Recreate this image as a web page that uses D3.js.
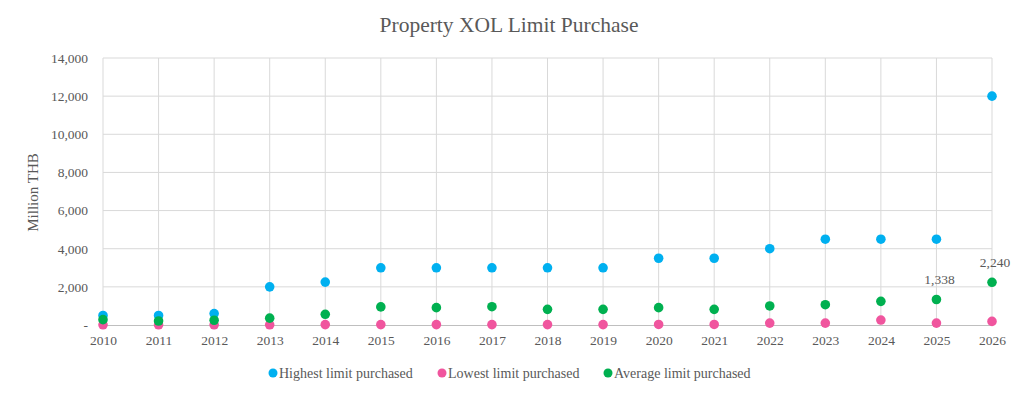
<!DOCTYPE html>
<html>
<head>
<meta charset="utf-8">
<script src="https://cdn.jsdelivr.net/npm/d3@7"></script>
<style>
  body { margin: 0; background: #fff; }
  text { font-family: "Liberation Serif", "DejaVu Serif", serif; fill: #595959; }
</style>
</head>
<body>
<div id="chart"></div>
<script>
const years = [2010, 2011, 2012, 2013, 2014, 2015, 2016, 2017, 2018, 2019, 2020, 2021, 2022, 2023, 2024, 2025, 2026];
const highest = [500, 500, 600, 2000, 2250, 3000, 3000, 3000, 3000, 3000, 3500, 3500, 4000, 4500, 4500, 4500, 12000];
const lowest = [10, 10, 10, 10, 20, 20, 20, 20, 20, 20, 30, 30, 100, 100, 260, 100, 190];
const average = [280, 210, 250, 360, 560, 950, 910, 960, 820, 820, 910, 820, 1000, 1065, 1240, 1338, 2240];
const yTicks = [0, 2000, 4000, 6000, 8000, 10000, 12000, 14000];
const labelled = [2025, 2026];

const series = [
  { name: "Highest limit purchased", values: highest, color: "#00B0F0" },
  { name: "Lowest limit purchased", values: lowest, color: "#F0559E" },
  { name: "Average limit purchased", values: average, color: "#00B050" },
];

const width = 1024, height = 396;
const margin = { left: 103, right: 32, top: 58, bottom: 71 };

const svg = d3.select("#chart").append("svg")
  .attr("width", width).attr("height", height);

const x = d3.scaleLinear().domain([2010, 2026]).range([margin.left, width - margin.right]);
const y = d3.scaleLinear().domain([0, 14000]).range([height - margin.bottom, margin.top]);

// gridlines
svg.append("g").selectAll("line.h")
  .data(yTicks.filter(d => d > 0))
  .join("line")
  .attr("x1", margin.left).attr("x2", width - margin.right)
  .attr("y1", d => y(d)).attr("y2", d => y(d))
  .attr("stroke", "#D9D9D9").attr("stroke-width", 1);

svg.append("g").selectAll("line.v")
  .data(years)
  .join("line")
  .attr("x1", d => x(d)).attr("x2", d => x(d))
  .attr("y1", y(14000)).attr("y2", y(0))
  .attr("stroke", "#D9D9D9").attr("stroke-width", 1);

// x axis
const axisX = d3.axisBottom(x).tickValues(years).tickFormat(d3.format("d")).tickSize(0).tickPadding(10);
const gx = svg.append("g").attr("transform", `translate(0,${y(0)})`).call(axisX);
gx.select(".domain").attr("stroke", "#BFBFBF");
gx.selectAll("text").style("font-size", "13.5px").attr("fill", "#595959");

// y axis
const axisY = d3.axisLeft(y).tickValues(yTicks)
  .tickFormat(d => d === 0 ? "-" : d3.format(",")(d)).tickSize(0).tickPadding(15);
const gy = svg.append("g").attr("transform", `translate(${margin.left},0)`).call(axisY);
gy.select(".domain").remove();
gy.selectAll("text").style("font-size", "13.5px").attr("fill", "#595959");

// points
series.forEach(s => {
  svg.append("g").selectAll("circle")
    .data(years.map((yr, i) => ({ x: yr, y: s.values[i] })))
    .join("circle")
    .attr("cx", d => x(d.x))
    .attr("cy", d => y(d.y))
    .attr("r", 4.8)
    .attr("fill", s.color);
});

// data labels
svg.append("g").selectAll("text")
  .data(labelled.map(yr => ({ x: yr, y: average[years.indexOf(yr)] })))
  .join("text")
  .attr("x", d => x(d.x) + 3)
  .attr("y", d => y(d.y) - 15)
  .attr("text-anchor", "middle")
  .style("font-size", "13.5px")
  .text(d => d3.format(",")(d.y));

// title
svg.append("text")
  .attr("x", 509).attr("y", 32)
  .attr("text-anchor", "middle")
  .style("font-size", "21.5px")
  .text("Property XOL Limit Purchase");

// y label
svg.append("text")
  .attr("transform", `translate(38,${(y(0) + y(14000)) / 2 + 1}) rotate(-90)`)
  .attr("text-anchor", "middle")
  .style("font-size", "15px")
  .text("Million THB");

// legend
const legendX = [273, 442, 608];
const legend = svg.append("g").selectAll("g")
  .data(series)
  .join("g")
  .attr("transform", (d, i) => `translate(${legendX[i]},373)`);
legend.append("circle").attr("r", 4.5).attr("fill", d => d.color);
legend.append("text")
  .attr("x", 6).attr("y", 4.5)
  .style("font-size", "14px")
  .text(d => d.name);
</script>
</body>
</html>
